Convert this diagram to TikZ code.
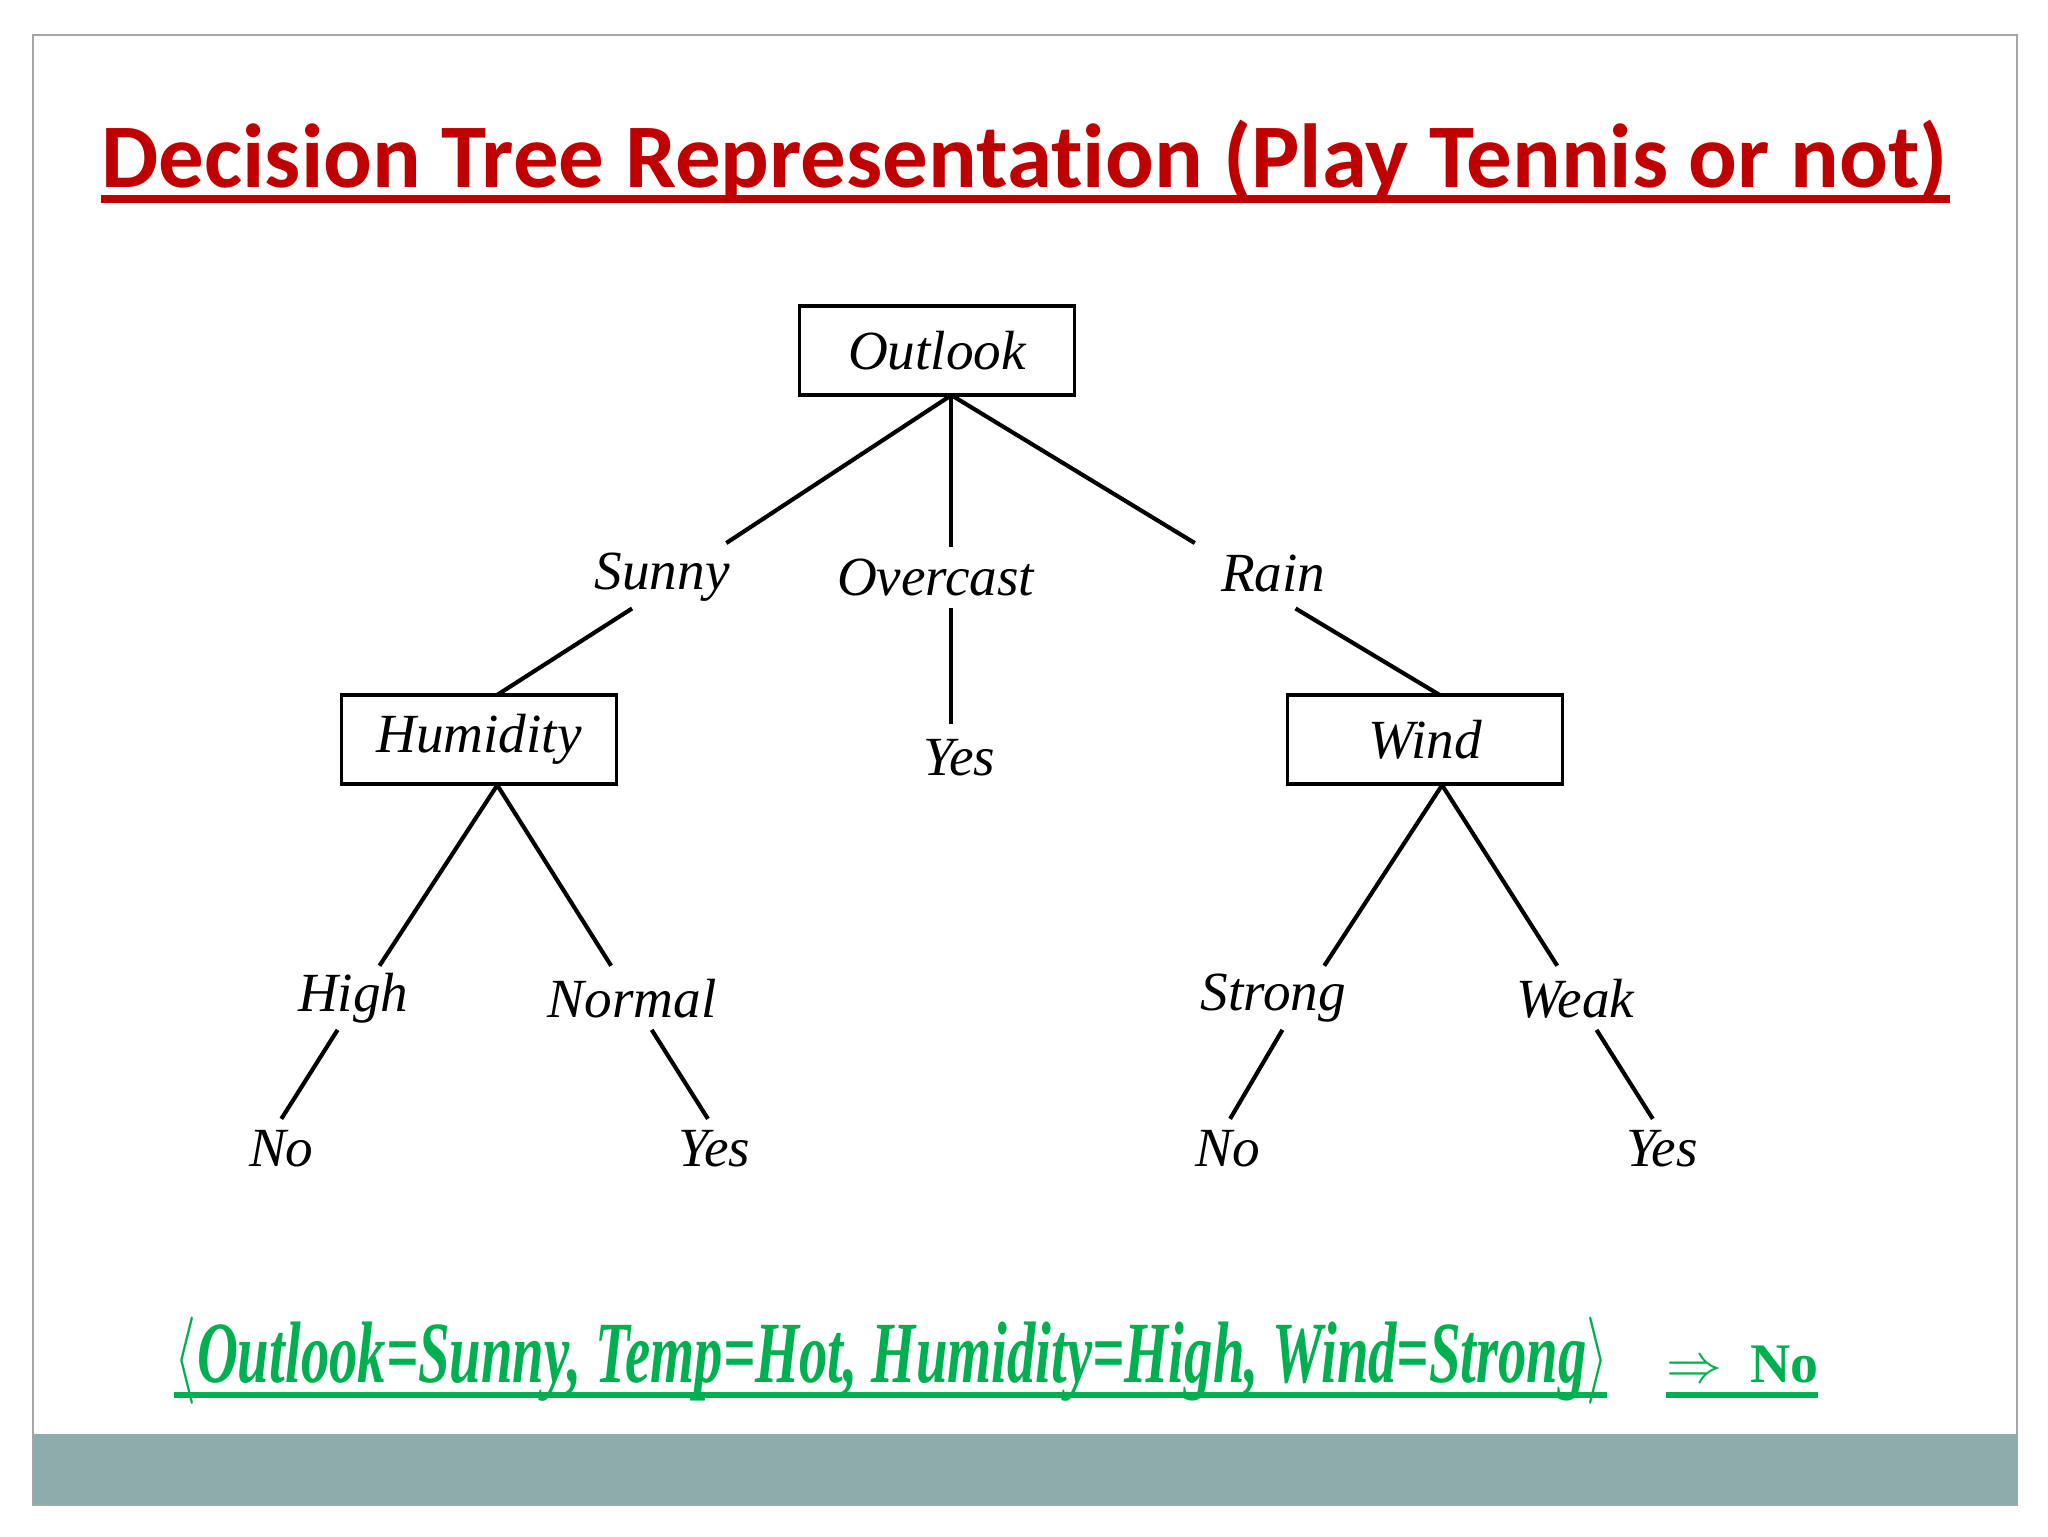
\documentclass[tikz,border=0pt]{standalone}
\usepackage{fontspec}
\setmainfont{Liberation Serif}
\newfontfamily\titlefont[Ligatures=NoCommon]{Carlito}
\definecolor{titlered}{HTML}{C00000}
\definecolor{band}{HTML}{8FACAD}
\definecolor{greentext}{HTML}{00B050}
\begin{document}
\begin{tikzpicture}[x=0.01cm,y=-0.01cm,
  box/.style={draw,thick,minimum width=2.1cm,minimum height=0.68cm,font=\itshape\fontsize{12}{14}\selectfont},
  lab/.style={inner sep=0.13cm,font=\itshape\fontsize{12}{14}\selectfont},
  edge/.style={line width=0.9pt}]
\useasboundingbox (0,0) rectangle (1565,1174);
\fill[white] (0,0) rectangle (1565,1174);
\draw[gray!70] (25,27) rectangle (1541,1150);
\fill[band] (25,1096) rectangle (1541,1150);
\node[text=titlered,inner sep=0,anchor=base] (title) at (783,143) {\resizebox{14.1cm}{!}{\titlefont\bfseries Decision Tree Representation (Play Tennis or not)}};
\draw[titlered,line width=1.6pt] (77,152) -- (1490,152);
\node[box] (outlook) at (716,268) {Outlook};
\node[box] (humidity) at (366,565) {Humidity};
\node[box] (wind) at (1089,565) {Wind};
\node[lab] (sunny) at (506,441) {Sunny};
\node[lab] (overcast) at (715,441) {Overcast};
\node[lab] (rain) at (973,438) {Rain};
\node[lab] (yes1) at (733,579) {Yes};
\node[lab] (high) at (270,763) {High};
\node[lab] (normal) at (483,763) {Normal};
\node[lab] (strong) at (973,763) {Strong};
\node[lab] (weak) at (1204,763) {Weak};
\node[lab] (no1) at (215,878) {No};
\node[lab] (yes2) at (546,878) {Yes};
\node[lab] (no2) at (938,878) {No};
\node[lab] (yes3) at (1270,878) {Yes};
\coordinate (ob) at (727,302);
\coordinate (hb) at (380,600);
\coordinate (wb) at (1102,600);
\draw[edge] (ob) -- (555,415);
\draw[edge] (ob) -- (727,418);
\draw[edge] (ob) -- (913,415);
\draw[edge] (483,465) -- (380,531);
\draw[edge] (727,465) -- (727,553);
\draw[edge] (990,465) -- (1100,531);
\draw[edge] (hb) -- (290,738);
\draw[edge] (hb) -- (467,738);
\draw[edge] (258,787) -- (215,855);
\draw[edge] (498,787) -- (541,855);
\draw[edge] (wb) -- (1012,738);
\draw[edge] (wb) -- (1190,738);
\draw[edge] (980,787) -- (940,855);
\draw[edge] (1220,787) -- (1263,855);
\node[text=greentext,anchor=west,inner sep=0] (example) at (133,1040) {\resizebox{10.95cm}{0.5cm}{\bfseries\itshape $\langle$Outlook=Sunny, Temp=Hot, Humidity=High, Wind=Strong$\rangle$}};
\draw[greentext,line width=1.4pt] (133,1066) -- (1228,1066);
\node[text=greentext,anchor=west,inner sep=0] (result) at (1273,1043) {\resizebox{1.16cm}{!}{\bfseries $\Rightarrow$\ \ No}};
\draw[greentext,line width=1.4pt] (1273,1066) -- (1389,1066);
\end{tikzpicture}
\end{document}
